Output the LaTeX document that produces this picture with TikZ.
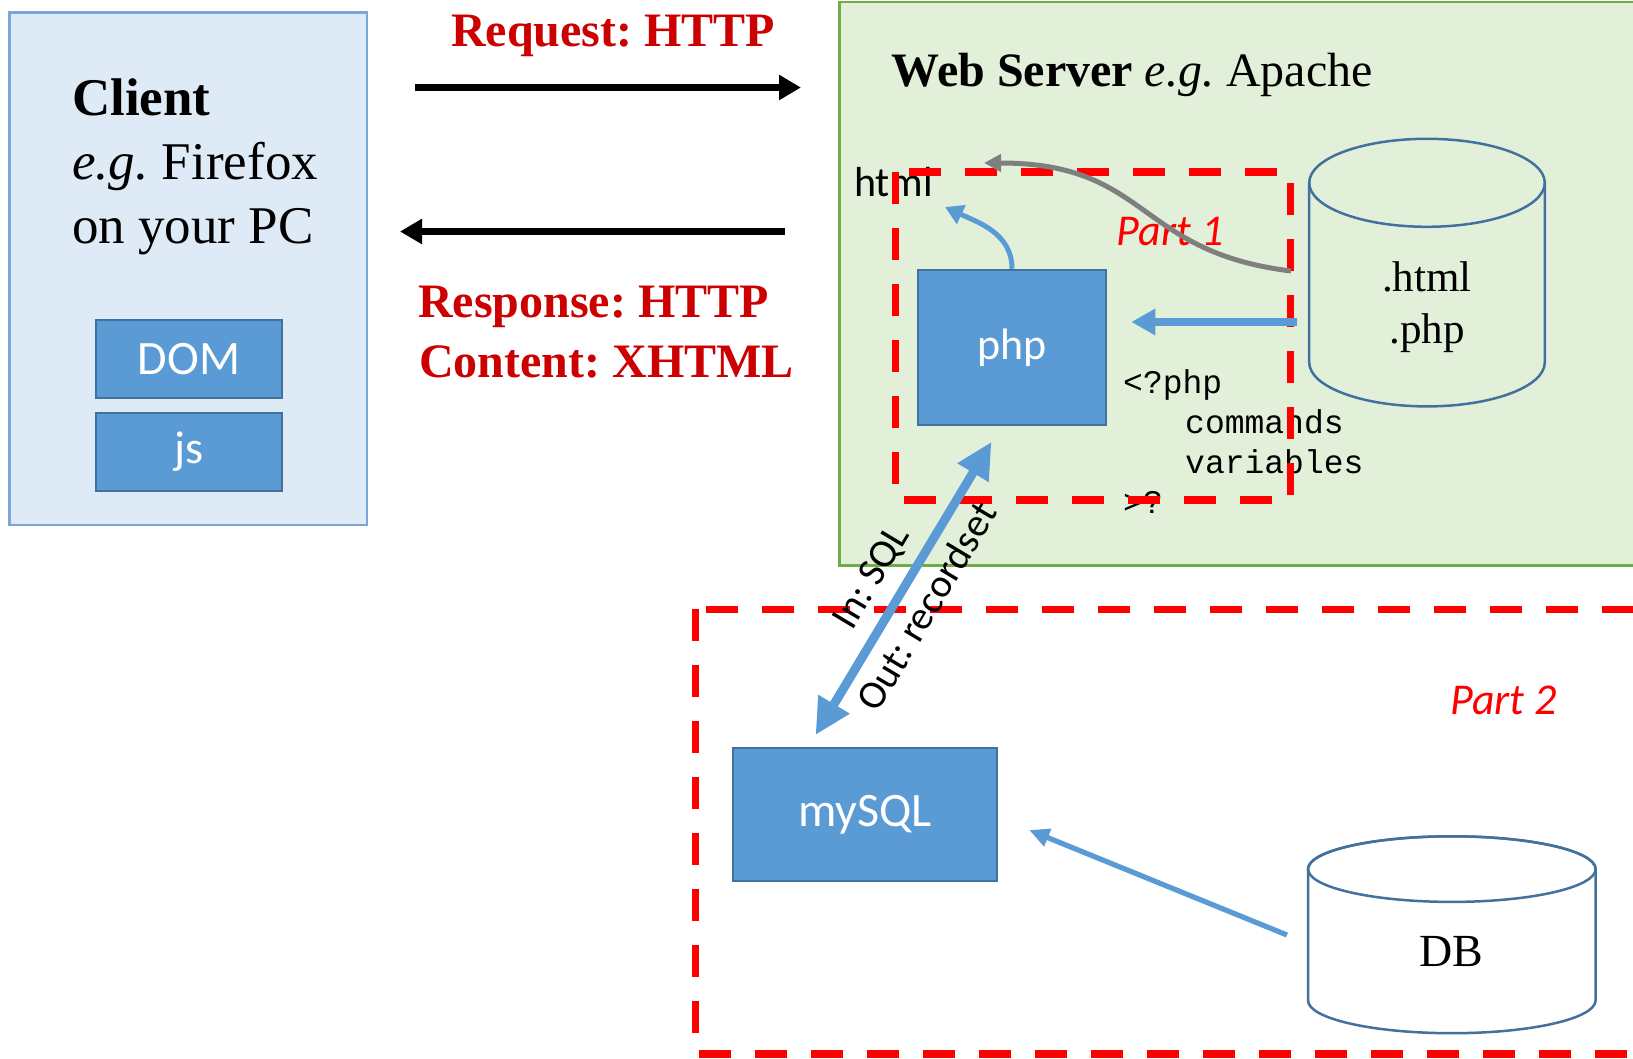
\documentclass[tikz,border=0pt]{standalone}
\usepackage{fontspec}
\setmainfont{Liberation Serif}
\setsansfont{Carlito}
\setmonofont{Liberation Mono}
\usepackage{xcolor}
\usetikzlibrary{arrows.meta}
\frenchspacing

\definecolor{pptblue}{HTML}{5B9BD5}
\definecolor{pptdarkblue}{HTML}{41719C}
\definecolor{clientfill}{HTML}{DEEBF7}
\definecolor{clientline}{HTML}{7AA6DA}
\definecolor{serverfill}{HTML}{E2F0D9}
\definecolor{serverline}{HTML}{70AD47}
\definecolor{labelred}{HTML}{CC0000}
\definecolor{partred}{HTML}{FF0000}
\definecolor{curvegray}{HTML}{7F7F7F}

\tikzset{
  block/.style={draw=pptdarkblue, line width=2.5pt, fill=pptblue, text=white,
    font=\sffamily\fontsize{46}{54}\selectfont, inner sep=0pt},
  bigtext/.style={font=\fontsize{53}{64}\selectfont, anchor=base west, inner sep=0pt},
  httplabel/.style={text=labelred, font=\bfseries\fontsize{48}{58}\selectfont,
    anchor=base west, inner sep=0pt},
  partlabel/.style={text=partred, font=\sffamily\itshape\fontsize{44}{52}\selectfont,
    anchor=base west, inner sep=0pt},
  codeline/.style={font=\ttfamily\fontsize{33}{40}\selectfont, anchor=base west, inner sep=0pt},
  partbox/.style={draw=partred, line width=7.5pt, dash pattern=on 32pt off 24pt},
  cyl/.style={draw=pptdarkblue, line width=2.5pt},
  httparrow/.style={line width=7pt, -{Triangle[length=22pt,width=24pt]}},
  sloplabel/.style={sloped, inner sep=0pt, text=black, font=\sffamily\fontsize{40}{48}\selectfont},
}

\begin{document}
\begin{tikzpicture}[x=1pt,y=-1pt]
    \fill[white] (0,0) rectangle (1633,1059);
    \useasboundingbox (0,0) rectangle (1633,1059);

    % client
    \draw[draw=clientline, fill=clientfill, line width=2.5pt] (9.4,12.5) rectangle (367,525);
    \node[bigtext, font=\bfseries\fontsize{53}{64}\selectfont] (client) at (72,116) {Client};
    \node[bigtext] (browser) at (72,180) {\textit{e.g.} Firefox};
    \node[bigtext] (pc) at (72,244) {on your PC};
    \node[block, font=\sffamily\fontsize{48}{56}\selectfont, minimum width=186pt, minimum height=78pt] (dom) at (189,359) {DOM};
    \node[block, minimum width=186pt, minimum height=78pt] (js) at (189,452) {js};

    % http
    \coordinate (reqA) at (415,87.5);
    \coordinate (reqB) at (801,87.5);
    \coordinate (resA) at (785,231.5);
    \coordinate (resB) at (400,231.5);
    \draw[httparrow] (reqA) -- (reqB);
    \draw[httparrow] (resA) -- (resB);
    \node[httplabel] (request) at (451,47) {Request: HTTP};
    \node[httplabel] (response) at (418,318) {Response: HTTP};
    \node[httplabel] (content) at (419,377) {Content: XHTML};

    % web server
    \draw[draw=serverline, fill=serverfill, line width=2.5pt] (839.5,2) rectangle (1660,565.5);
    \node[bigtext, font=\fontsize{48}{58}\selectfont] (server) at (891.5,86.5)
      {\textbf{Web Server} \textit{e.g.} Apache};
    \node[anchor=base west, inner sep=0pt, font=\sffamily\fontsize{42}{50}\selectfont] (html) at (854,196.5) {html};
    \node[block, font=\sffamily\fontsize{44}{52}\selectfont, minimum width=188pt, minimum height=155pt] (php) at (1012,347.5) {php};
    \node[codeline] (phpopen) at (1123,393.5) {<?php};
    \node[codeline] (commands) at (1185,433) {commands};
    \node[codeline] (variables) at (1185,473.5) {variables};
    \node[codeline] (phpclose) at (1123,513) {>?};

    \draw[cyl] (1309.2,182.8) -- (1309.2,362.4)
      arc[start angle=180, end angle=0, x radius=117.8, y radius=44] -- (1544.8,182.8);
    \draw[cyl] (1427,182.8) ellipse[x radius=117.8, y radius=44];
    \node[anchor=base, inner sep=0pt, font=\fontsize{43}{52}\selectfont] (fileshtml) at (1427,291.6) {.html};
    \node[anchor=base, inner sep=0pt, font=\fontsize{43}{52}\selectfont] (filesphp) at (1427,343.7) {.php};

    % database
    \node[block, font=\sffamily\fontsize{48}{56}\selectfont, minimum width=264pt, minimum height=133pt] (mysql) at (865,814.5) {mySQL};
    \draw[cyl, fill=white] (1308,869.1) -- (1308,1000.4)
      arc[start angle=180, end angle=0, x radius=143.8, y radius=32.8] -- (1595.6,869.1)
      arc[start angle=0, end angle=-180, x radius=143.8, y radius=32.8] -- cycle;
    \draw[cyl] (1451.8,869.1) ellipse[x radius=143.8, y radius=32.8];
    \node[anchor=base, inner sep=0pt, font=\fontsize{46}{55}\selectfont] (db) at (1451.5,966.5) {DB};

    \node[partlabel] (partone) at (1116.5,245.5) {Part 1};
    \node[partlabel] (parttwo) at (1450,714.5) {Part 2};
    \draw[partbox] (895.7,172) rectangle (1290.5,500);
    \draw[partbox] (695.7,609.3) rectangle (1700,1054);

    % flows
    \coordinate (htmltip) at (945,207);
    \coordinate (grayA) at (1291,271);
    \coordinate (graytip) at (984,163);
    \coordinate (filesout) at (1297,322);
    \coordinate (dbout) at (1287,935);
    \draw[pptblue, line width=5pt, -{Triangle[length=18pt,width=20pt]}]
      (php.north) to[out=90, in=-25] (htmltip);
    \draw[curvegray, line width=5pt, -{Triangle[length=17pt,width=17pt]}]
      (grayA) .. controls (1135,252) and (1150,163) .. (graytip);
    \draw[pptblue, line width=7pt, -{Triangle[length=24pt,width=25pt]}, shorten >=24pt]
      (filesout) -- (filesout -| php.east);
    \draw[pptblue, line width=9pt, {Triangle[length=36pt,width=34pt]}-{Triangle[length=36pt,width=34pt]}]
      ([shift={(-49.5,-11.7)}]mysql.north) -- ([shift={(-20.5,15.6)}]php.south)
      node[sloplabel, pos=0.48, above=12pt] (sqlin) {In: SQL}
      node[sloplabel, pos=0.49, below=10pt] (sqlout) {Out: recordset};
    \draw[pptblue, line width=5.2pt, -{Triangle[length=20pt,width=18pt]}]
      (dbout) -- ([shift={(31,15.6)}]mysql.east);
\end{tikzpicture}
\end{document}
